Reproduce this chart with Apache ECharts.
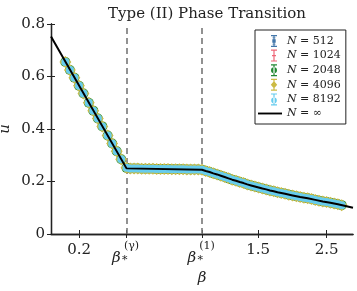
<!DOCTYPE html>
<html><head><meta charset="utf-8">
<script src="https://cdn.jsdelivr.net/npm/echarts@6/dist/echarts.min.js"></script>
<style>html,body{margin:0;padding:0;background:#fff}#c{width:357px;height:291px}</style>
</head><body><div id="c"></div>
<script>
// x axis is drawn in a piecewise "axis coordinate" s: [0,1] up to beta*(gamma), [1,2] up to beta*(1), [2,4] beyond
const xTickPos = [0.373, 1, 2, 2.744, 3.65];
const xTickLabels = ['0.2', 'BG', 'B1', '1.5', '2.5'];
const yTicks = [0, 0.2, 0.4, 0.6, 0.8];
const transitions = [1, 2];

// N = infinity curve
const lineX = [0, 1, 2, 2.05, 2.1, 2.15, 2.2, 2.25, 2.3, 2.35, 2.4, 2.45, 2.5, 2.55, 2.6, 2.65, 2.7, 2.75, 2.8, 2.85, 2.9, 2.95, 3.0, 3.1, 3.2, 3.3, 3.4, 3.5, 3.6, 3.7, 3.8, 3.9, 4.0];
const lineU = [0.752, 0.25, 0.245, 0.240, 0.236, 0.231, 0.227, 0.222, 0.217, 0.212, 0.207, 0.203, 0.198, 0.194, 0.189, 0.185, 0.181, 0.177, 0.173, 0.170, 0.166, 0.163, 0.159, 0.153, 0.147, 0.141, 0.136, 0.130, 0.124, 0.119, 0.113, 0.107, 0.100];

// finite-N data (all sizes overlap)
const ptX = [0.19, 0.25, 0.31, 0.37, 0.43, 0.5, 0.56, 0.62, 0.68, 0.75, 0.81, 0.87, 0.93, 1.0,
  1.05, 1.1, 1.15, 1.2, 1.25, 1.3, 1.35, 1.4, 1.45, 1.5, 1.55, 1.6, 1.65, 1.7, 1.75, 1.8, 1.85, 1.9, 1.95, 2.0,
  2.05, 2.1, 2.15, 2.2, 2.25, 2.3, 2.35, 2.4, 2.45, 2.5, 2.55, 2.6, 2.65, 2.7, 2.75, 2.8, 2.85, 2.9, 2.95, 3.0,
  3.05, 3.1, 3.15, 3.2, 3.25, 3.3, 3.35, 3.4, 3.45, 3.5, 3.55, 3.6, 3.65, 3.7, 3.75, 3.8, 3.85];
const ptU = [0.655, 0.625, 0.595, 0.565, 0.535, 0.5, 0.47, 0.44, 0.41, 0.375, 0.345, 0.315, 0.285, 0.252,
  0.250, 0.250, 0.250, 0.249, 0.249, 0.249, 0.249, 0.248, 0.248, 0.248, 0.248, 0.247, 0.247, 0.247, 0.247, 0.246, 0.246, 0.246, 0.246, 0.245,
  0.240, 0.236, 0.231, 0.227, 0.222, 0.217, 0.212, 0.207, 0.203, 0.198, 0.194, 0.189, 0.185, 0.181, 0.177, 0.173, 0.170, 0.166, 0.163, 0.159,
  0.156, 0.153, 0.150, 0.147, 0.144, 0.141, 0.138, 0.136, 0.133, 0.130, 0.127, 0.124, 0.122, 0.119, 0.116, 0.113, 0.110];

const sizes = ['512', '1024', '2048', '4096', '8192'];
const colors = ['#4477AA', '#EE6677', '#228833', '#CCBB44', '#66CCEE'];
const symbols = ['rect', 'rect', 'circle', 'diamond', 'circle'];
const symbolSizes = [5, 5, 10, 12, 8];

const FONT = 'DejaVu Serif';
const pad = 'M0 6L0.001 6M24 6L23.999 6';
const bar = 'M13 0H19V1.2H13ZM15.4 0H16.6V12H15.4ZM13 10.8H19V12H13Z';
const marks = [
  'M14.3 4.3H17.7V7.7H14.3ZM14.5 2.5H17.5V3.3H14.5ZM14.5 8.7H17.5V9.5H14.5Z',
  'M14 5.3H18V6.7H14Z',
  'M13 6A3 3 0 1 0 19 6A3 3 0 1 0 13 6Z',
  'M16 2.3L19.2 6L16 9.7L12.8 6Z',
  'M13.2 7A2.8 2.8 0 1 0 18.8 7A2.8 2.8 0 1 0 13.2 7Z'
];
const infIcon = 'path://M1 5.1H24V6.9H1Z';

const pts = ptX.map((x, i) => [x, ptU[i]]);
const linePts = lineX.map((x, i) => [x, lineU[i]]);

const series = sizes.map((n, k) => ({
  name: 'N = ' + n,
  type: 'scatter',
  data: pts,
  symbol: symbols[k],
  symbolSize: symbolSizes[k],
  itemStyle: { color: colors[k], opacity: 1 },
  z: 2 + k,
  markLine: k === 0 ? {
    silent: true, symbol: ['none', 'none'], label: { show: false },
    lineStyle: { color: '#777', width: 1.6, type: [6, 4] },
    data: transitions.map(v => ({ xAxis: v }))
  } : undefined
}));
series.push({
  name: 'N = ∞', type: 'line', data: linePts, symbol: 'none', showSymbol: false,
  lineStyle: { color: '#000', width: 2 }, itemStyle: { color: '#000' }, z: 10
});

const rich = {
  b: { fontFamily: FONT, fontSize: 15, fontStyle: 'italic', color: '#222', width: 10, align: 'left', lineHeight: 16 },
  sub: { fontFamily: FONT, fontSize: 11, color: '#222', width: 19, align: 'left', lineHeight: 16, verticalAlign: 'bottom' },
  sup: { fontFamily: FONT, fontSize: 11, color: '#222', width: 19, align: 'left', lineHeight: 7 },
  pd: { width: 10, lineHeight: 7 }
};
function fmtX(v) {
  const i = xTickPos.findIndex(p => Math.abs(p - v) < 1e-6);
  if (i < 0) return '';
  const l = xTickLabels[i];
  if (l === 'BG') return '{pd|}{sup|(γ)}\n{b|β}{sub|*}';
  if (l === 'B1') return '{pd|}{sup|(1)}\n{b|β}{sub|*}';
  return l;
}

const axisLine = { show: true, lineStyle: { color: '#222', width: 1.3 } };
const tick = { show: true, inside: true, length: 4, lineStyle: { color: '#222', width: 1 } };

const chart = echarts.init(document.getElementById('c'), null, { renderer: 'canvas' });
chart.setOption({
  animation: false,
  backgroundColor: '#fff',
  title: {
    text: 'Type (II) Phase Transition', left: 202, top: 2, textAlign: 'center',
    textStyle: { fontFamily: FONT, fontSize: 15, fontWeight: 'normal', color: '#222' }
  },
  grid: { left: 51, right: 4, top: 24, bottom: 57, containLabel: false, outerBoundsMode: 'none' },
  xAxis: [{
    type: 'value', min: 0, max: 4, position: 'bottom',
    axisLine, splitLine: { show: false },
    axisTick: Object.assign({ customValues: xTickPos }, tick),
    axisLabel: { customValues: xTickPos, formatter: fmtX, margin: 9, fontFamily: FONT, fontSize: 15, color: '#222', rich },
    name: 'β', nameLocation: 'middle', nameGap: 34,
    nameTextStyle: { fontFamily: FONT, fontSize: 15, fontStyle: 'italic', color: '#222' }
  }, {
    type: 'value', min: 0, max: 4, position: 'top',
    axisLine, splitLine: { show: false },
    axisTick: Object.assign({ customValues: xTickPos }, tick),
    axisLabel: { show: false }
  }],
  yAxis: [{
    type: 'value', min: 0, max: 0.8, interval: 0.2, position: 'left',
    axisLine, splitLine: { show: false }, axisTick: tick,
    axisLabel: { margin: 6, fontFamily: FONT, fontSize: 15, color: '#222' },
    name: 'u', nameLocation: 'middle', nameGap: 38, nameMoveOverlap: false,
    nameTextStyle: { fontFamily: FONT, fontSize: 15, fontStyle: 'italic', color: '#222' }
  }, {
    type: 'value', min: 0, max: 0.8, interval: 0.2, position: 'right',
    axisLine, splitLine: { show: false }, axisTick: tick, axisLabel: { show: false }
  }],
  legend: {
    orient: 'vertical', left: 255, top: 30,
    itemWidth: 24, itemHeight: 12, itemGap: 2.6,
    padding: [5, 5, 5, 3],
    borderColor: '#222', borderWidth: 1, backgroundColor: '#fff',
    data: sizes.map((n, k) => ({ name: 'N = ' + n, icon: 'path://' + pad + bar + marks[k], itemStyle: { color: colors[k] } }))
      .concat([{ name: 'N = ∞', icon: infIcon, itemStyle: { color: '#000' } }]),
    formatter: name => '{i|N} = ' + name.slice(4),
    textStyle: { fontFamily: FONT, fontSize: 11, color: '#222',
      rich: { i: { fontFamily: FONT, fontSize: 11, fontStyle: 'italic', color: '#222' } } },
    selectedMode: false
  },
  series
});
</script></body></html>
